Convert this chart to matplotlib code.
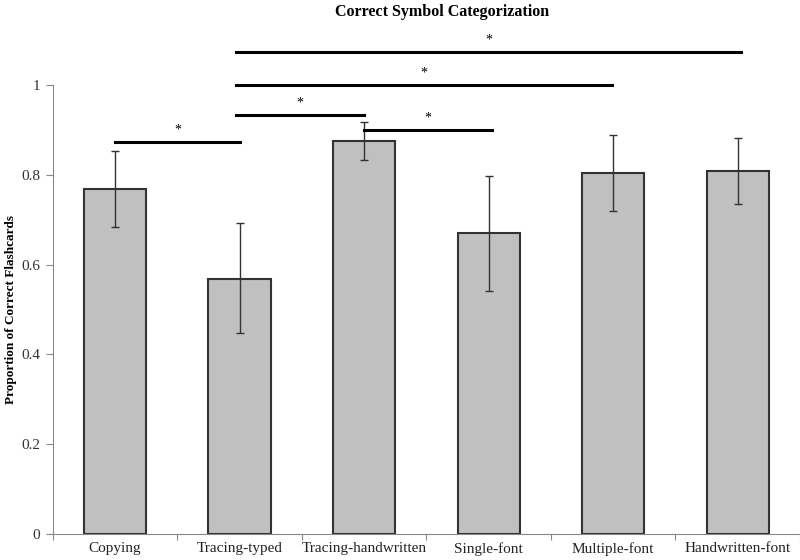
import matplotlib
matplotlib.use('Agg')
import matplotlib.pyplot as plt
import numpy as np

plt.rcParams['font.family'] = ['Liberation Serif', 'DejaVu Serif']

# Data
categories = ['Copying', 'Tracing-typed', 'Tracing-handwritten',
              'Single-font', 'Multiple-font', 'Handwritten-font']
means = np.array([0.768, 0.568, 0.876, 0.671, 0.803, 0.809])
err_low = np.array([0.684, 0.447, 0.833, 0.541, 0.719, 0.736])
err_high = np.array([0.852, 0.692, 0.918, 0.798, 0.888, 0.883])

# significance brackets: (start, end, height)
sig_start = [0.0, 0.97, 0.97, 2.0, 0.97]
sig_end = [1.0, 2.0, 3.99, 3.03, 5.03]
sig_height = [0.874, 0.933, 1.0, 0.900, 1.073]

fig = plt.figure(figsize=(8, 5.6), dpi=100)
ax = fig.add_axes([0.066, 0.0464, 0.934, 0.8018])

x = np.arange(len(categories))
yerr = np.vstack([means - err_low, err_high - means])

ax.bar(x, means, width=0.5, color='#c0c0c0', edgecolor='#333333', linewidth=1.5, zorder=2)
ax.errorbar(x, means, yerr=yerr, fmt='none', ecolor='#333333', elinewidth=1,
            capsize=3, capthick=1, zorder=3)

# Significance lines
for s, e, h in zip(sig_start, sig_end, sig_height):
    ax.plot([s, e], [h, h], color='black', linewidth=2.2, clip_on=False, zorder=4)
    ax.text((s + e) / 2, h + 0.012, '*', ha='center', va='bottom', fontsize=10, clip_on=False)

ax.set_xlim(-0.5, 5.5)
ax.set_ylim(0, 1)

# Axes styling
for side in ['top', 'right']:
    ax.spines[side].set_visible(False)
ax.spines['left'].set_color('#888888')
ax.spines['bottom'].set_color('#888888')

ax.set_yticks([0, 0.2, 0.4, 0.6, 0.8, 1.0])
ax.set_yticklabels(['0', '0.2', '0.4', '0.6', '0.8', '1'])
ax.tick_params(axis='y', colors='#888888', labelcolor='#333333', labelsize=11, length=5, pad=4)

ax.set_xticks(np.arange(-0.5, 6.0, 1.0))
ax.set_xticklabels([])
ax.set_xticks(x, minor=True)
ax.set_xticklabels(categories, minor=True)
ax.tick_params(axis='x', which='major', colors='#888888', length=4, direction='out')
ax.tick_params(axis='x', which='minor', length=0, labelsize=11, labelcolor='#222222', pad=6)

ax.set_ylabel('Proportion of Correct Flashcards', fontsize=9.5, fontweight='bold')
ax.yaxis.set_label_coords(-0.048, 0.5)
fig.text(0.553, 0.992, 'Correct Symbol Categorization', ha='center', va='top',
         fontsize=11.5, fontweight='bold')

plt.savefig('out.png', dpi=100)
